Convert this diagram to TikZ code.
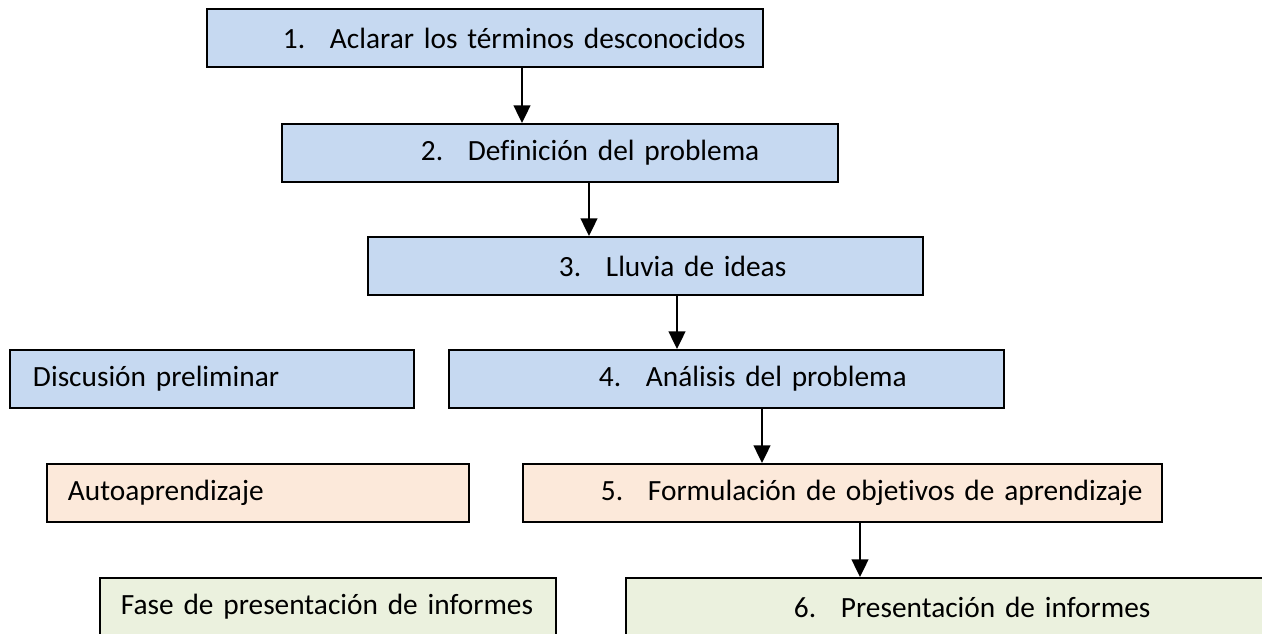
\documentclass[tikz,border=0pt]{standalone}
\usepackage{fontspec}
\setmainfont{Carlito}[Ligatures=NoCommon]
\usetikzlibrary{arrows.meta}
\definecolor{pblue}{HTML}{C6D9F1}
\definecolor{ppeach}{HTML}{FCE9DA}
\definecolor{pgreen}{HTML}{EBF1DE}
\tikzset{
    every node/.style={draw, line width=1.13pt, anchor=north west,
    	inner xsep=0pt, inner ysep=0pt, minimum height=1.16cm, align=left,
    	font=\fontsize{16.7}{20}\selectfont}
}
\tikzset{
    phase/.style={fill=pblue},
    study/.style={fill=ppeach},
    report/.style={fill=pgreen},
    flow/.style={-{Triangle[width=9.5pt,length=10pt]}, line width=1.13pt}
}
\newcommand\itemno[1]{\makebox[0.94cm][l]{#1}}

\begin{document}
\begin{tikzpicture}[x=0.02cm, y=-0.02cm]
	\useasboundingbox (0,0) rectangle (1262,633);
	\fill[white] (0,0) rectangle (1262,633);
	\clip (0,0) rectangle (1262,633);
	\node (s1) [phase, text width=11.12cm] at (206,8)
		{\hspace*{1.52cm}\itemno{1.}Aclarar los términos desconocidos};
	\node (s2) [phase, text width=11.12cm] at (281,123)
		{\hspace*{2.78cm}\itemno{2.}Definición del problema};
	\node (s3) [phase, text width=11.10cm] at (367,236)
		{\hspace*{3.82cm}\itemno{3.}Lluvia de ideas};
	\node (disc) [phase, text width=8.08cm] at (9,349)
		{\hspace*{0.46cm}Discusión preliminar};
	\node (s4) [phase, text width=11.10cm] at (448,349)
		{\hspace*{3.00cm}\itemno{4.}Análisis del problema};
	\node (auto) [study, text width=8.44cm] at (46,463)
		{\hspace*{0.42cm}Autoaprendizaje};
	\node (s5) [study, text width=12.78cm] at (522,463)
		{\hspace*{1.56cm}\itemno{5.}Formulación de objetivos de aprendizaje};
	\node (fase) [report, text width=9.12cm] at (99,577)
		{\hspace*{0.42cm}Fase de presentación de informes};
	\node (s6) [report, text width=13.2cm] at (625,577)
		{\hspace*{3.36cm}\itemno{6.}Presentación de informes};
	
	\draw[flow] (s1.south -| 522,0) -- (s2.north -| 522,0);
	\draw[flow] (s2.south -| 589,0) -- (s3.north -| 589,0);
	\draw[flow] (s3.south -| 677,0) -- (s4.north -| 677,0);
	\draw[flow] (s4.south -| 762,0) -- (s5.north -| 762,0);
	\draw[flow] (s5.south -| 860,0) -- (s6.north -| 860,0);
\end{tikzpicture}
\end{document}
